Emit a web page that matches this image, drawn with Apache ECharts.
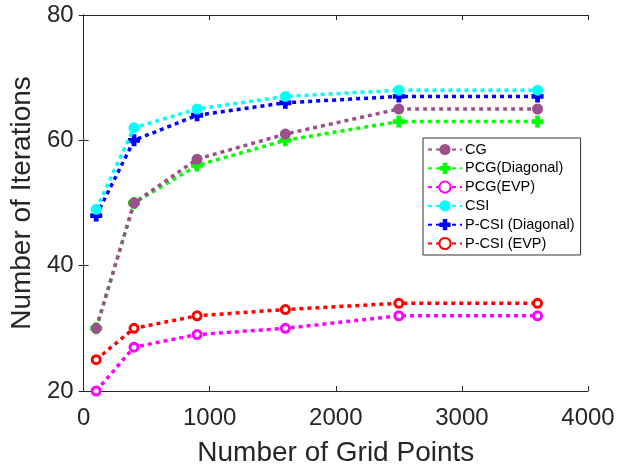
<!DOCTYPE html>
<html><head><meta charset="utf-8">
<script src="https://cdn.jsdelivr.net/npm/echarts@6/dist/echarts.min.js"></script>
<style>html,body{margin:0;padding:0;background:#fff}#c{width:622px;height:473px}</style>
</head><body><div id="c"></div>
<script>
const gridPoints = [100, 400, 900, 1600, 2500, 3600];
const seriesNames = ['CG', 'PCG(Diagonal)', 'PCG(EVP)', 'CSI', 'P-CSI (Diagonal)', 'P-CSI (EVP)'];
const cg = [30, 50, 57, 61, 65, 65];
const pcgDiag = [30, 50, 56, 60, 63, 63];
const pcgEvp = [20, 27, 29, 30, 32, 32];
const csi = [49, 62, 65, 67, 68, 68];
const pcsiDiag = [48, 60, 64, 66, 67, 67];
const pcsiEvp = [25, 30, 32, 33, 34, 34];
const xTicks = [0, 1000, 2000, 3000, 4000];
const yTicks = [20, 40, 60, 80];

const FONT = 'Liberation Sans, Arial, sans-serif';
const TXT = '#262626';
const cross = 'path://M3,0 H7 V3 H10 V7 H7 V10 H3 V7 H0 V3 H3 Z';
const styles = [
  {color: '#9b4f8c', symbol: 'circle', size: 11, hollow: false},
  {color: '#00ff00', symbol: cross, size: 12, hollow: false},
  {color: '#ff00ff', symbol: 'circle', size: 8, hollow: true},
  {color: '#00ffff', symbol: 'circle', size: 11, hollow: false},
  {color: '#0000ff', symbol: cross, size: 12, hollow: false},
  {color: '#ff0000', symbol: 'circle', size: 8, hollow: true}
];
const allData = [cg, pcgDiag, pcgEvp, csi, pcsiDiag, pcsiEvp];

const series = allData.map((vals, i) => {
  const s = styles[i];
  return {
    name: seriesNames[i],
    type: 'line',
    data: vals.map((v, j) => [gridPoints[j], v]),
    symbol: s.symbol,
    symbolSize: s.size,
    showAllSymbol: true,
    lineStyle: {color: s.color, width: 3.5, type: [4, 4], cap: 'butt'},
    itemStyle: s.hollow ? {color: '#fff', borderColor: s.color, borderWidth: 3}
                        : {color: s.color, borderColor: s.color, borderWidth: 0},
    emphasis: {disabled: true},
    animation: false,
    z: 10 - i
  };
});

const chart = echarts.init(document.getElementById('c'), null, {renderer: 'canvas'});
const axisLine = {show: true, lineStyle: {color: TXT, width: 1}};
const tick = {show: true, inside: true, length: 5, lineStyle: {color: TXT}};
chart.setOption({
  backgroundColor: '#fff',
  animation: false,
  grid: {left: 82, right: 34, top: 15, bottom: 82},
  legend: {
    data: seriesNames,
    orient: 'vertical',
    left: 423, top: 138,
    padding: [4, 6, 4, 4],
    itemGap: 3.8,
    itemWidth: 34, itemHeight: 14,
    backgroundColor: '#fff',
    borderColor: '#333', borderWidth: 1,
    textStyle: {fontFamily: FONT, fontSize: 14.5, color: '#000', padding: [0, 0, 0, -2]}
  },
  xAxis: [{
    type: 'value', min: 0, max: 4000, interval: 1000,
    name: 'Number of Grid Points', nameLocation: 'middle', nameGap: 48,
    nameTextStyle: {fontFamily: FONT, fontSize: 28, color: TXT},
    axisLine: axisLine, axisTick: tick,
    axisLabel: {fontFamily: FONT, fontSize: 24, color: TXT, margin: 15,
      formatter: v => xTicks.includes(v) ? String(v) : ''},
    splitLine: {show: false}
  }, {
    type: 'value', min: 0, max: 4000, interval: 1000, position: 'top',
    axisLine: axisLine, axisTick: tick,
    axisLabel: {show: false}, splitLine: {show: false}
  }],
  yAxis: [{
    type: 'value', min: 20, max: 80, interval: 20,
    name: 'Number of Iterations', nameLocation: 'middle', nameGap: 45,
    nameTextStyle: {fontFamily: FONT, fontSize: 28, color: TXT},
    axisLine: axisLine, axisTick: tick,
    axisLabel: {fontFamily: FONT, fontSize: 24, color: TXT, margin: 10,
      formatter: v => yTicks.includes(v) ? String(v) : ''},
    splitLine: {show: false}
  }, {
    type: 'value', min: 20, max: 80, interval: 20, position: 'right',
    axisLine: axisLine, axisTick: tick,
    axisLabel: {show: false}, splitLine: {show: false}
  }],
  series: series
});
</script></body></html>
